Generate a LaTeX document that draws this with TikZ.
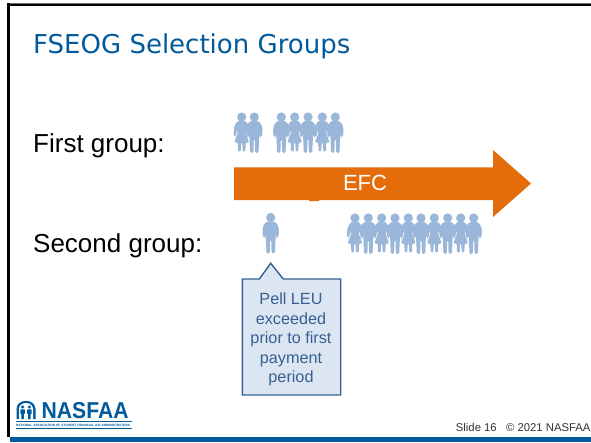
\documentclass[tikz,border=0pt]{standalone}
\usepackage{fontspec}
\setmainfont{Liberation Sans}
\newfontfamily\titlefont{DejaVu Sans}
\definecolor{nasblue}{HTML}{005A9C}
\definecolor{peopleblue}{HTML}{9AB6D9}
\definecolor{arroworange}{HTML}{E46C0A}
\definecolor{calloutfill}{HTML}{DCE6F2}
\definecolor{calloutline}{HTML}{376092}
\newcommand{\fsz}[1]{\fontsize{#1}{#1}\selectfont}
\tikzset{
  x=1pt,y=-1pt,
  bodytext/.style={anchor=base west,inner sep=0pt,text=black,font=\fsz{26}},
  calltext/.style={inner sep=0pt,text=calloutline,font=\fsz{16.2},anchor=base},
  mansign/.pic={
    \fill[peopleblue] (0,0) circle[radius=4.6];
    \fill[peopleblue,rounded corners=1.5pt]
      (-2.5,3.8) -- (-5.5,5) -- (-8,10) -- (-8.2,17) -- (-6.8,20.5) -- (-5.6,20) -- (-5.2,15)
      -- (-4.8,22) -- (-4.2,36) -- (-0.9,36) -- (-0.5,22) -- (0.5,22) -- (0.9,36) -- (4.2,36)
      -- (4.8,22) -- (5.2,15) -- (5.6,20) -- (6.8,20.5) -- (8.2,17) -- (8,10) -- (5.5,5) -- (2.5,3.8) -- cycle;
  },
  womansign/.pic={
    \fill[peopleblue] (0,0) circle[radius=4.6];
    \fill[peopleblue,rounded corners=1.2pt]
      (-2.5,3.8) -- (-5,5) -- (-7.5,10) -- (-8.2,17) -- (-6.8,20) -- (-5.8,19) -- (-4.6,13)
      -- (-3.6,15) -- (-7.4,25.5) -- (-3.9,25.5) -- (-3.7,34.5) -- (-0.9,34.5) -- (-0.7,25.5) -- (0.7,25.5)
      -- (0.9,34.5) -- (3.7,34.5) -- (3.9,25.5) -- (7.4,25.5) -- (3.6,15) -- (4.6,13) -- (5.8,19)
      -- (6.8,20) -- (8.2,17) -- (7.5,10) -- (5,5) -- (2.5,3.8) -- cycle;
  },
}
\begin{document}
\begin{tikzpicture}
\useasboundingbox (0,0) rectangle (591,442);
\fill[white] (0,0) rectangle (591,442);
% frame
\fill[black!55] (7.3,3) rectangle (591,4);
\fill[black] (7.3,4) rectangle (591,6);
\fill[black] (7.3,3) rectangle (10,437);
\fill[nasblue] (10,437) rectangle (591,442);
% title and labels
\node[anchor=base west,inner sep=0pt,text=nasblue,font=\titlefont\fsz{26}] (title) at (33,53.3) {FSEOG Selection Groups};
\node[bodytext] (first) at (33,152.3) {First group:};
\node[bodytext] (second) at (33,252.3) {Second group:};
% arrow
\fill[arroworange] (234,167.3) -- (493,167.3) -- (493,150) -- (531,183.5) -- (493,217) -- (493,200) -- (319,200) -- (319,201) -- (309,201) -- (309,200) -- (234,200) -- cycle;
\node[inner sep=0pt,text=white,font=\fsz{22},anchor=base] (efc) at (365,190.5) {EFC};
% first group
\foreach \x/\k in {241.7/womansign,254.3/mansign,281.3/mansign,294.7/womansign,308/mansign,322.3/womansign,335.3/mansign}
  \pic at (\x,117) {\k};
% second group
\pic at (270.7,217.5) {mansign};
\foreach \x/\k in {355/womansign,368.3/mansign,381.7/womansign,395/mansign,408.3/womansign,421/mansign,434.3/womansign,447.7/mansign,460.7/womansign,473.7/mansign}
  \pic at (\x,218) {\k};
% callout
\draw[line width=1.4pt,draw=calloutline,fill=calloutfill,line join=miter]
  (242.3,279) -- (259.3,279) -- (270.7,263.3) -- (283.3,279) -- (340.7,279) -- (340.7,395) -- (242.3,395) -- cycle;
\node[calltext] (c1) at (291,304) {Pell LEU};
\node[calltext] (c2) at (291,324) {exceeded};
\node[calltext] (c3) at (291,343.5) {prior to first};
\node[calltext] (c4) at (291,363) {payment};
\node[calltext] (c5) at (291,382.5) {period};
% footer
\node[anchor=base east,inner sep=0pt,text=black!80,font=\fsz{11.3}] (foot) at (590.7,431.7) {Slide 16\ \ \ © 2021 NASFAA};
% logo
\fill[nasblue] (16.5,419) -- (16.5,409) .. controls (16.5,404) and (21,400.8) .. (26,400.8) .. controls (31,400.8) and (35.5,404) .. (35.5,409) -- (35.5,419) -- cycle;
\fill[white] (19,419) -- (19,409) .. controls (19,405.5) and (22,403) .. (26,403) .. controls (30,403) and (33,405.5) .. (33,409) -- (33,419) -- cycle;
\fill[nasblue] (22.6,407) circle[radius=1.7] (29.4,407) circle[radius=1.7];
\fill[nasblue,rounded corners=0.4pt] (20.4,409.3) rectangle (24.8,414) (21.4,414) rectangle (23.8,419);
\fill[nasblue,rounded corners=0.4pt] (27.2,409.3) rectangle (31.6,414) (28.2,414) rectangle (30.6,419);
\node[anchor=base west,inner sep=0pt,text=nasblue,font=\bfseries\fsz{23},xscale=0.92] (logo) at (41.5,418.3) {NASFAA};
\fill[nasblue] (16,421) rectangle (132,421.9);
\fill[nasblue] (16,428) rectangle (132,428.7);
\node[anchor=base west,inner sep=0pt,text=nasblue,font=\bfseries\fsz{3.18}] (logosub) at (16,426.8) {NATIONAL ASSOCIATION OF STUDENT FINANCIAL AID ADMINISTRATORS};
\end{tikzpicture}
\end{document}
